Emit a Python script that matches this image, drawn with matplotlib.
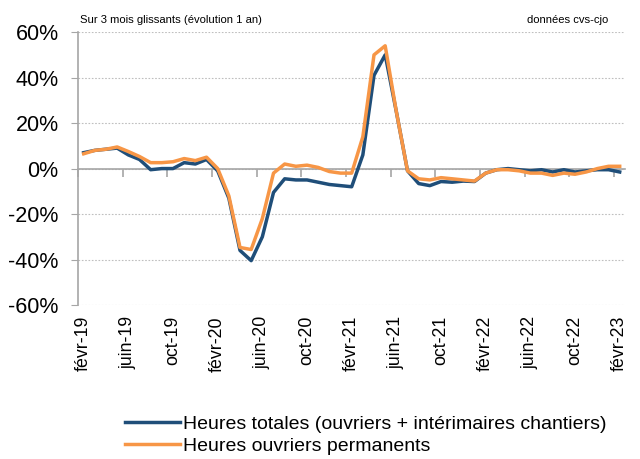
import numpy as np
import matplotlib
matplotlib.use('Agg')
import matplotlib.pyplot as plt
from matplotlib.ticker import FuncFormatter

plt.rcParams['font.family'] = ['Liberation Sans', 'DejaVu Sans']

# monthly series, févr-19 .. févr-23
mois_fr = ['janv', 'févr', 'mars', 'avr', 'mai', 'juin', 'juil', 'août', 'sept', 'oct', 'nov', 'déc']
months = [f'{mois_fr[(1 + k) % 12]}-{19 + (1 + k) // 12}' for k in range(49)]

totales = [7, 8, 8.5, 9, 6, 4, -0.5, 0, 0, 2.6, 2, 4,
           -1, -13, -36, -40.5, -30, -10.5, -4.5, -5, -5, -6, -7, -7.5,
           -8, 6, 41, 50, 25, -1, -6.6, -7.5, -5.7, -6, -5.5, -5.7,
           -2, -0.5, 0, -0.5, -1, -0.5, -1.5, -0.5, -1.5, -1, -0.5, -0.5, -1.5]
permanents = [6.5, 8, 8.5, 9.5, 7.5, 5.3, 2.6, 2.6, 3, 4.4, 3.5, 5,
              0, -12, -34.7, -35.6, -22, -2, 2, 1, 1.5, 0.5, -1.3, -2,
              -2, 14, 50, 54, 25, -1, -4.5, -5, -4, -4.5, -5, -5.5,
              -2, -0.5, -0.5, -1, -2, -2, -3, -2, -2.5, -1.5, 0, 1, 1]

label_tot = 'Heures totales (ouvriers + intérimaires chantiers)'
label_perm = 'Heures ouvriers permanents'
c_tot = '#1f4e79'
c_perm = '#f79646'

x = np.arange(len(months))

fig = plt.figure(figsize=(6.4, 4.59), dpi=100)
ax = fig.add_axes([0.122, 0.3355, 0.855, 0.5945])

ax.plot(x, totales, color=c_tot, lw=2.5, solid_joinstyle='round', label=label_tot, zorder=3)
ax.plot(x, permanents, color=c_perm, lw=2.5, solid_joinstyle='round', label=label_perm, zorder=4)

ax.set_xlim(-0.5, len(months) - 0.5)
ax.set_ylim(-60, 60)
ax.set_yticks(np.arange(-60, 61, 20))
ax.yaxis.set_major_formatter(FuncFormatter(lambda v, p: f'{v:.0f}%'))
ax.tick_params(axis='y', direction='out', length=5, color='#a6a6a6', labelsize=15.5, pad=9)
ax.grid(axis='y', color='#bfbfbf', lw=0.8, ls=(0, (1.5, 1.5)))
ax.set_axisbelow(True)

# category axis crossing at 0 with tick marks between categories
for s in ['top', 'right']:
    ax.spines[s].set_visible(False)
ax.spines['left'].set_color('#a6a6a6')
ax.spines['left'].set_linewidth(1.2)
ax.spines['bottom'].set_position(('data', 0))
ax.spines['bottom'].set_color('#a6a6a6')
ax.spines['bottom'].set_linewidth(1.2)
ax.set_xticks(np.arange(-0.5, len(months), 4))
ax.set_xticklabels([])
ax.tick_params(axis='x', direction='out', length=6, width=1.2, color='#a6a6a6')

# labels at the bottom
sec = ax.secondary_xaxis('bottom')
sec.set_xticks(x[::4])
sec.set_xticklabels(months[::4], rotation=90, fontsize=12.8)
sec.tick_params(length=0, pad=8)
sec.spines['bottom'].set_visible(False)

ax.text(0.004, 1.025, 'Sur 3 mois glissants (évolution 1 an)', transform=ax.transAxes,
        fontsize=8.1, ha='left', va='bottom')
ax.text(0.968, 1.025, 'données cvs-cjo', transform=ax.transAxes,
        fontsize=8.1, ha='right', va='bottom')

fig.legend(loc='upper left', bbox_to_anchor=(0.196, 0.095), bbox_transform=fig.transFigure,
           frameon=False, fontsize=14, handlelength=2.8, handletextpad=0.15,
           labelspacing=0.2, borderpad=0, borderaxespad=0)

fig.savefig('out.png', dpi=100)
